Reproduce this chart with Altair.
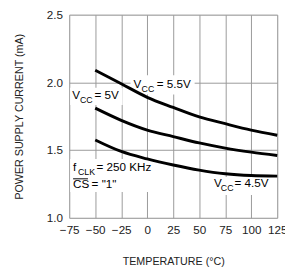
import altair as alt
import pandas as pd

# ---- data ----
temps = [-50, -25, 0, 25, 50, 75, 100, 125]
i_vcc_55 = [2.09, 1.99, 1.89, 1.815, 1.745, 1.695, 1.648, 1.61]
i_vcc_50 = [1.81, 1.72, 1.648, 1.60, 1.553, 1.515, 1.485, 1.46]
i_vcc_45 = [1.575, 1.49, 1.435, 1.39, 1.352, 1.325, 1.312, 1.308]
series = ["VCC = 5.5V", "VCC = 5V", "VCC = 4.5V"]

x_ticks = [-75, -50, -25, 0, 25, 50, 75, 100, 125]
y_ticks = [1.0, 1.5, 2.0, 2.5]

rows = []
for name, vals in zip(series, [i_vcc_55, i_vcc_50, i_vcc_45]):
    for t, v in zip(temps, vals):
        rows.append({"series": name, "temp": t, "current": v})
df = pd.DataFrame(rows)

# annotation pieces (data coordinates)
main_text = ["V", "= 5.5V", "V", "= 5V", "f", "= 250 KHz", "CS", '= "1"', "V", "= 4.5V"]
main_x = [-13.3, 9.1, -72.2, -50.7, -71.3, -48.8, -71.3, -53.5, 64.3, 83.9]
main_y = [1.960, 1.960, 1.876, 1.876, 1.344, 1.344, 1.218, 1.218, 1.225, 1.225]
sub_text = ["CC", "CC", "CLK", "CC"]
sub_x = [-5.4, -64.7, -66.6, 70.8]
sub_y = [1.932, 1.848, 1.319, 1.197]
box_x = [-16.1, -74.1, -74.1, 60.5]
box_x2 = [45.6, -23.6, 8.2, 119.4]
box_y = [2.052, 1.960, 1.435, 1.302]
box_y2 = [1.911, 1.834, 1.190, 1.169]
over_x, over_x2, over_y = [-71.3], [-57.0], [1.288]

main_df = pd.DataFrame({"t": main_text, "x": main_x, "y": main_y})
sub_df = pd.DataFrame({"t": sub_text, "x": sub_x, "y": sub_y})
box_df = pd.DataFrame({"x": box_x, "x2": box_x2, "y": box_y, "y2": box_y2})
over_df = pd.DataFrame({"x": over_x, "x2": over_x2, "y": over_y})

FONT = "Liberation Sans"

xscale = alt.Scale(domain=[-75, 125], nice=False, zero=False)
yscale = alt.Scale(domain=[1.0, 2.5], nice=False, zero=False)

xaxis = alt.Axis(values=x_ticks, format="d", grid=True, ticks=False, domain=False,
                 labelFlush=False, labelOverlap=False, labelBound=False,
                 labelFontSize=12, labelPadding=7, labelColor="#222", labelFont=FONT,
                 title="TEMPERATURE (°C)", titleFontSize=11, titleFontWeight="normal",
                 titleFont=FONT, titleColor="#222", titlePadding=21,
                 gridColor="#999", gridWidth=1, gridOpacity=1)
yaxis = alt.Axis(values=y_ticks, format=".1f", grid=True, ticks=False, domain=False,
                 labelFlush=False, labelOverlap=False, labelBound=False,
                 labelFontSize=12, labelPadding=7, labelColor="#222", labelFont=FONT,
                 title="POWER SUPPLY CURRENT (mA)", titleFontSize=11,
                 titleFontWeight="normal", titleFont=FONT, titleColor="#222",
                 titlePadding=22, gridColor="#999", gridWidth=1, gridOpacity=1)


def X(field):
    return alt.X(field, scale=xscale, axis=xaxis)


def Y(field):
    return alt.Y(field, scale=yscale, axis=yaxis)


lines = alt.Chart(df).mark_line(color="black", strokeWidth=3, interpolate="monotone").encode(
    x=X("temp:Q"), y=Y("current:Q"), detail="series:N",
)

boxes = alt.Chart(box_df).mark_rect(color="white").encode(
    x=X("x:Q"), x2="x2:Q", y=Y("y:Q"), y2="y2:Q",
)

main_lbl = alt.Chart(main_df).mark_text(
    align="left", baseline="alphabetic", fontSize=12, font=FONT, color="black"
).encode(x=X("x:Q"), y=Y("y:Q"), text="t:N")

sub_lbl = alt.Chart(sub_df).mark_text(
    align="left", baseline="alphabetic", fontSize=9, font=FONT, color="black"
).encode(x=X("x:Q"), y=Y("y:Q"), text="t:N")

over = alt.Chart(over_df).mark_rule(color="black", strokeWidth=1).encode(
    x=X("x:Q"), x2="x2:Q", y=Y("y:Q")
)

chart = alt.layer(boxes, lines, main_lbl, sub_lbl, over).properties(
    width=214, height=209,
    autosize=alt.AutoSizeParams(type="none"),
    padding={"left": 63, "top": 3, "right": 8, "bottom": 57},
).configure_view(stroke="black", strokeWidth=2).configure(background="white")

chart.save("out.html", embed_options={"renderer": "svg", "actions": False})
